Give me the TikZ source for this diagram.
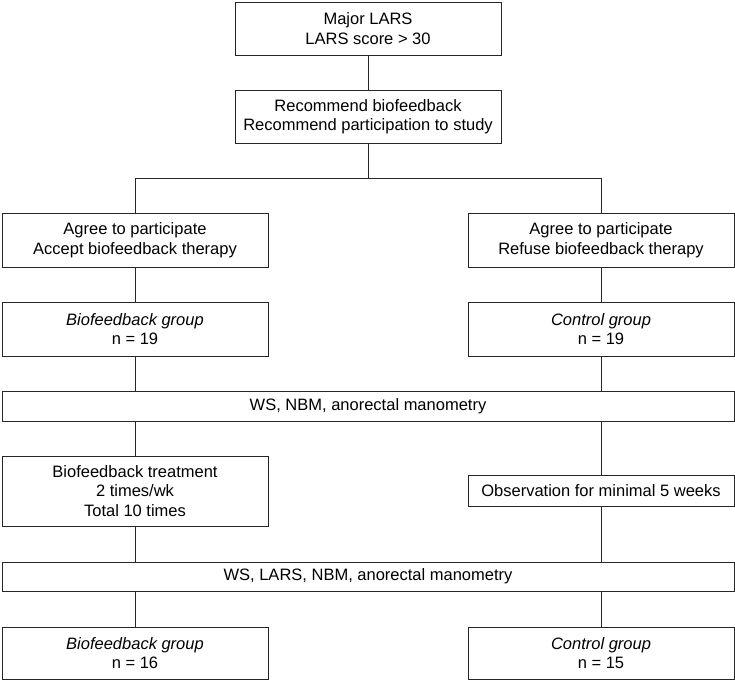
\documentclass[tikz,border=0pt]{standalone}
\usepackage{fontspec}
\setmainfont{Liberation Sans}
\usetikzlibrary{positioning,calc}
\tikzstyle{box}=[draw=black!85, line width=1pt, minimum width=266pt, minimum height=53pt, inner sep=0pt, align=center, font=\fontsize{16.5}{19.5}\selectfont]
\tikzstyle{widebox}=[box, minimum width=732pt, minimum height=30pt]
\tikzstyle{link}=[draw=black!85, line width=1pt]

\begin{document}
\begin{tikzpicture}[x=1pt,y=1pt]

\useasboundingbox (0,0) rectangle (735,-681);

% top
\node[box] (major) at (368,-28.5) {Major LARS\\LARS score > 30};
\node[box] (recommend) at (368,-116.5) {Recommend biofeedback\\Recommend participation to study};

% split
\node[box, minimum height=54pt] (accept) at (135,-240) {Agree to participate\\Accept biofeedback therapy};
\node[box, minimum height=54pt] (refuse) at (601,-240) {Agree to participate\\Refuse biofeedback therapy};
\node[box, minimum height=54pt] (bfbefore) at (135,-329) {\textit{Biofeedback group}\\n = 19};
\node[box, minimum height=54pt] (ctlbefore) at (601,-329) {\textit{Control group}\\n = 19};

% tests
\node[widebox] (testa) at (368,-406) {WS, NBM, anorectal manometry};
\node[box, minimum height=70pt] (treat) at (135,-491) {Biofeedback treatment\\2 times/wk\\Total 10 times};
\node[box, minimum height=31pt] (observe) at (601,-491) {Observation for minimal 5 weeks};
\node[widebox, minimum height=29pt] (testb) at (368,-576.5) {WS, LARS, NBM, anorectal manometry};

% end
\node[box, minimum height=52pt] (bfafter) at (135,-653) {\textit{Biofeedback group}\\n = 16};
\node[box, minimum height=52pt] (ctlafter) at (601,-653) {\textit{Control group}\\n = 15};

\coordinate (fork) at ($(recommend.south)+(0,-35)$);

\draw[link] (major) -- (recommend);
\draw[link] (recommend) -- (fork);
\draw[link] (fork) -| (accept.north);
\draw[link] (fork) -| (refuse.north);
\draw[link] (accept) -- (bfbefore);
\draw[link] (refuse) -- (ctlbefore);
\draw[link] (bfbefore.south) -- (bfbefore.south |- testa.north);
\draw[link] (ctlbefore.south) -- (ctlbefore.south |- testa.north);
\draw[link] (treat.north |- testa.south) -- (treat.north);
\draw[link] (observe.north |- testa.south) -- (observe.north);
\draw[link] (treat.south) -- (treat.south |- testb.north);
\draw[link] (observe.south) -- (observe.south |- testb.north);
\draw[link] (bfafter.north |- testb.south) -- (bfafter.north);
\draw[link] (ctlafter.north |- testb.south) -- (ctlafter.north);

\end{tikzpicture}
\end{document}
